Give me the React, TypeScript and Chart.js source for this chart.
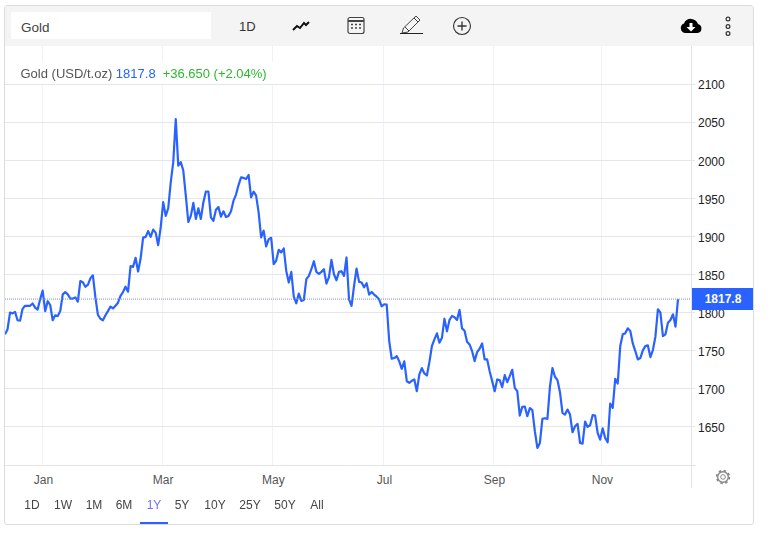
import React, { useEffect, useRef } from "react";
import { Chart, registerables } from "chart.js";

Chart.register(...registerables);

const pricesA = [1771.5,1778,1800,1799,1801,1790,1789.5,1805,1809,1809,1809,1812,1806.5,1804,1817.5,1829,1802,1815,1810,1790,1796.5,1795.5,1802,1824,1827,1824,1818.5,1818.5,1820,1814.5,1841.5,1840,1834,1836.5,1845,1849,1820,1797,1792,1790,1796.5,1802,1808,1805.5,1809,1813,1822,1827,1834,1827.5,1861,1860,1872,1854,1871,1898.5,1899.5,1907,1899.5,1909,1905,1888.5,1912,1945,1927,1937,1971,1997.5,2054,1993,1997.5,1986.5,1953.5,1919,1927,1944,1923,1937,1923,1945,1959,1959,1925,1920.5,1935,1938.5,1926,1933,1925.5,1927,1933,1947,1955,1967.5,1977.5];
const pricesB = [1976.8,1975.4,1980.7,1951.3,1958.8,1953.5,1931.6,1898.7,1907.5,1886.8,1896.5,1898.2,1863.6,1868.4,1882.5,1879,1884.2,1854.8,1839.5,1853.5,1821,1812.3,1825,1815.4,1816.7,1843.9,1848.2,1857,1867.5,1853.5,1850.9,1853.5,1857,1838.2,1846.5,1869.3,1850.4,1842.5,1853.5,1854.4,1848.2,1872.4,1817.5,1808.8,1835,1857.9,1840.4,1839.5,1833.3,1838.6,1823.7,1827.2,1823.7,1821,1817.5,1808.3,1811,1810.5,1762.7,1739.5,1740.4,1743,1736,1726.3,1736,1710,1707.9,1710.5,1712.3,1696.9,1718.9,1727.2,1720.2,1717.5,1735,1756,1764.9,1772.8,1760.5,1767,1792,1775.4,1790.4,1795.6,1793.9,1790.4,1803.5,1779.4,1776.3,1761.8,1758.3];
const pricesC = [1749.6,1736.4,1748.2,1752.6,1759.6,1738.6,1738.6,1723.2,1710.1,1696.9,1712.3,1711.4,1702.2,1718,1708.8,1716.7,1725,1701.3,1696.9,1664.9,1676.3,1676.8,1664,1674.6,1671.9,1644.3,1622.4,1628.9,1660.5,1661.4,1660.5,1702.6,1727.2,1715.8,1711.4,1695.6,1668.4,1666.2,1672.8,1666.2,1643,1650.9,1653.9,1628.9,1628,1657,1650,1652.2,1665.4,1664.9,1642.1,1633.3,1648.2,1635.5,1629.8,1680.7,1675,1713.2,1707,1756.1,1771.5,1772.8,1779.4,1775.9,1759.6,1749.6,1738.6,1740.4,1750.4,1756.1,1757,1741.7,1750.9,1768.4,1804.4,1800,1769.3,1771.5,1786.8,1790.4,1797.8,1781.6,1817.8];

const lastPrice = 1817.8;
const monthLabels = ["Jan", "Mar", "May", "Jul", "Sep", "Nov"];
const monthIndexes = [14.9, 62.6, 106.5, 150.7, 194.5, 237.5];
const priceTicks = [1650, 1700, 1750, 1800, 1850, 1900, 1950, 2000, 2050, 2100];
const ranges = ["1D", "1W", "1M", "6M", "1Y", "5Y", "10Y", "25Y", "50Y", "All"];
const rangeCenters = [32, 63, 94, 124, 154, 182, 215, 250, 285, 317];

const FONT = '"Liberation Sans", Arial, sans-serif';

const overlayPlugin = {
  id: "overlay",
  beforeDraw(chart: any) {
    const { ctx, width, height } = chart;
    ctx.save();
    ctx.fillStyle = "#ffffff";
    ctx.fillRect(0, 0, width, height);
    ctx.restore();
  },
  afterDraw(chart: any) {
    const { ctx, chartArea, scales } = chart;
    ctx.save();
    ctx.strokeStyle = "#e4e4e4";
    ctx.lineWidth = 1;
    ctx.beginPath();
    ctx.moveTo(chartArea.left, chartArea.bottom + 0.5);
    ctx.lineTo(696, chartArea.bottom + 0.5);
    ctx.moveTo(chartArea.right + 0.5, chartArea.top);
    ctx.lineTo(chartArea.right + 0.5, 488);
    ctx.stroke();
    const y = Math.round(scales.y.getPixelForValue(lastPrice));
    ctx.fillStyle = "#2962ff";
    ctx.fillRect(692, y - 11, 61, 22);
    ctx.fillStyle = "#ffffff";
    ctx.font = `bold 12px ${FONT}`;
    ctx.textAlign = "center";
    ctx.textBaseline = "middle";
    ctx.fillText(lastPrice.toFixed(1), 723, y + 1);
    ctx.restore();
  },
};

const Icon = ({ x, w = 26, children }: any) => (
  <svg width={w} height={26} viewBox={`0 0 ${w} 26`} style={{ position: "absolute", left: x - w / 2, top: 13 }}>
    {children}
  </svg>
);

export default function App() {
  const ref = useRef<HTMLCanvasElement>(null);
  useEffect(() => {
    const canvas = ref.current!;
    canvas.getContext("2d", { alpha: false });
    const prices = [...pricesA, ...pricesB, ...pricesC];
    const n = prices.length;
    const xMax = ((n - 1) * 686) / 673;
    const chart = new Chart(canvas, {
      type: "line",
      data: {
        datasets: [
          {
            data: [{ x: 0, y: lastPrice }, { x: xMax, y: lastPrice }],
            borderColor: "#7d90d8",
            borderWidth: 1,
            borderDash: [1, 1],
            pointRadius: 0,
          },
          {
            data: prices.map((y, x) => ({ x, y })),
            borderColor: "#2962ff",
            borderWidth: 2.2,
            pointRadius: 0,
            tension: 0,
            borderJoinStyle: "round",
          },
        ],
      },
      options: {
        responsive: false,
        animation: false,
        events: [],
        layout: { padding: { left: 5, top: 46, right: 17, bottom: 36 } },
        plugins: { legend: { display: false }, tooltip: { enabled: false } },
        scales: {
          x: {
            type: "linear",
            min: 0,
            max: xMax,
            afterBuildTicks(s: any) {
              s.ticks = monthIndexes.map((value) => ({ value }));
            },
            afterFit(s: any) {
              s.height = 35;
            },
            grid: { color: "#eef1f5", drawTicks: false },
            border: { display: false },
            ticks: {
              autoSkip: false,
              maxRotation: 0,
              padding: 8,
              labelOffset: 1,
              color: "#555555",
              font: { family: FONT, size: 12 },
              callback: (v: any) => monthLabels[monthIndexes.indexOf(v)],
            },
          },
          y: {
            position: "right",
            min: 1600,
            max: 2150,
            afterBuildTicks(s: any) {
              s.ticks = priceTicks.map((value) => ({ value }));
            },
            afterFit(s: any) {
              s.width = 62;
            },
            grid: { color: "#e6e6e6", tickLength: 4, drawOnChartArea: true },
            border: { display: false },
            ticks: {
              autoSkip: false,
              padding: 3,
              labelOffset: 2,
              color: "#222222",
              font: { family: FONT, size: 12 },
              callback: (v: any) => String(v),
            },
          },
        },
      },
      plugins: [overlayPlugin],
    } as any);
    return () => chart.destroy();
  }, []);

  const abs: React.CSSProperties = { position: "absolute" };
  return (
    <div style={{ ...abs, left: 0, top: 0, width: 770, height: 536, fontFamily: FONT, background: "#fff", overflow: "hidden" }}>
      <canvas ref={ref} width={770} height={536} style={{ ...abs, left: 0, top: 0, width: 770, height: 536, display: "block" }} />
      <div style={{ ...abs, left: 4, top: 5, width: 748, height: 518, border: "1px solid #dcdcdc", borderRadius: 3, boxSizing: "content-box", pointerEvents: "none" }} />
      <div style={{ ...abs, left: 5, top: 6, width: 748, height: 40, background: "#f4f4f4" }} />
      <div style={{ ...abs, left: 11, top: 12, width: 200, height: 27, background: "#fff" }} />
      <div style={{ ...abs, left: 21, top: 20, fontSize: 13.5, lineHeight: "16px", color: "#444" }}>Gold</div>
      <div style={{ ...abs, left: 239, top: 19, fontSize: 13, lineHeight: "16px", color: "#333" }}>1D</div>

      <Icon x={301}>
        <path d="M5 17 L9 13 L12 15 L16 10 L18 12 L21 9" fill="none" stroke="#111" strokeWidth="2" />
      </Icon>
      <Icon x={356}>
        <rect x="5" y="4.5" width="16" height="16" rx="2" fill="none" stroke="#444" strokeWidth="1.2" />
        <path d="M5 8 H21" stroke="#444" strokeWidth="2" />
        <path d="M8 11.5h2M12 11.5h2M16 11.5h2M8 15h2M12 15h2M16 15h2" stroke="#444" strokeWidth="1.4" />
      </Icon>
      <Icon x={412}>
        <path d="M3 20 L4.5 15 L17 3 L21 7 L9 19 Z M6 14 L10 18 M15 5 L19 9" fill="none" stroke="#444" strokeWidth="1" />
        <path d="M1 20.5 H24" stroke="#222" strokeWidth="1" />
      </Icon>
      <Icon x={462}>
        <circle cx="13" cy="13" r="8.5" fill="none" stroke="#333" strokeWidth="1.1" />
        <path d="M13 8.5 V17.5 M8.5 13 H17.5" stroke="#333" strokeWidth="1.3" />
      </Icon>
      <Icon x={691}>
        <path d="M7 20 a5 5 0 0 1 -1 -9.6 a7.5 7.5 0 0 1 14 0.6 a4.6 4.6 0 0 1 -0.5 9 Z" fill="#000" />
        <path d="M11.5 10 h3 v4 h3 l-4.5 4.5 l-4.5 -4.5 h3 Z" fill="#fff" />
      </Icon>
      <Icon x={728}>
        <circle cx="13" cy="6" r="1.9" fill="none" stroke="#333" strokeWidth="1.2" />
        <circle cx="13" cy="13.5" r="1.9" fill="none" stroke="#333" strokeWidth="1.2" />
        <circle cx="13" cy="20.5" r="1.9" fill="none" stroke="#333" strokeWidth="1.2" />
      </Icon>

      <div style={{ ...abs, left: 15, top: 61, width: 260, height: 23, background: "#fff" }} />
      <div style={{ ...abs, left: 20.5, top: 66, fontSize: 13, lineHeight: "16px", whiteSpace: "pre" }}>
        <span style={{ color: "#555" }}>Gold (USD/t.oz) </span>
        <span style={{ color: "#2962ff" }}>1817.8</span>
        <span style={{ color: "#2eb82e", marginLeft: 7 }}>+36.650 (+2.04%)</span>
      </div>

      {ranges.map((r, i) => (
        <div
          key={r}
          style={{
            ...abs,
            left: rangeCenters[i] - 20,
            width: 40,
            top: 497,
            textAlign: "center",
            fontSize: 12,
            lineHeight: "16px",
            color: r === "1Y" ? "#6f6fff" : "#444",
          }}
        >
          {r}
        </div>
      ))}
      <div style={{ ...abs, left: 140, top: 522, width: 28, height: 2, background: "#2962ff" }} />

      <svg width={18} height={18} viewBox="0 0 18 18" style={{ ...abs, left: 714, top: 468 }}>
        <circle cx="9" cy="9" r="5.3" fill="none" stroke="#888" strokeWidth="1.4" />
        <circle cx="9" cy="9" r="2.3" fill="none" stroke="#888" strokeWidth="1" />
        <circle cx="9" cy="9" r="6.4" fill="none" stroke="#888" strokeWidth="1.6" strokeDasharray="2.5 2.5" />
      </svg>
    </div>
  );
}
